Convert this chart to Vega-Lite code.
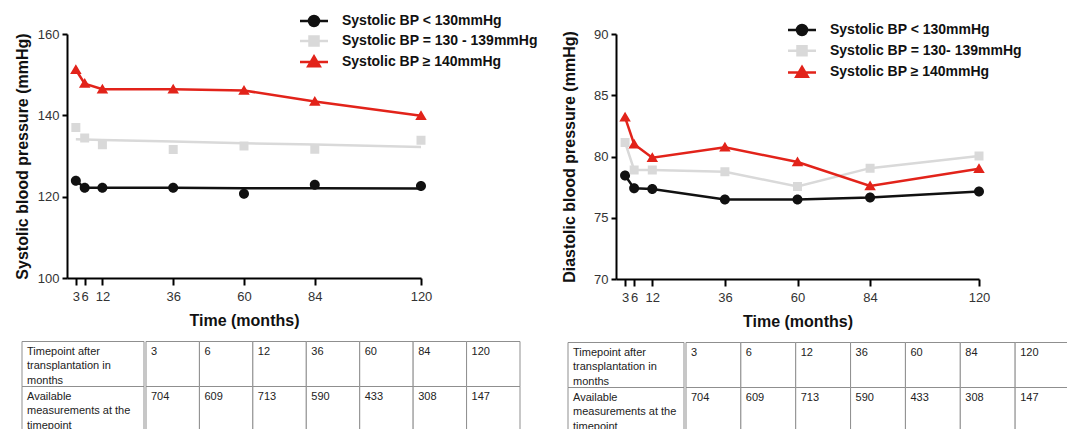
{
  "$schema": "https://vega.github.io/schema/vega-lite/v6.json",
  "padding": {"left": 14, "top": 14, "right": 0, "bottom": 0},
  "background": "white",
  "datasets": {
    "bp": [
      {"chart": "sys", "group": "Systolic BP < 130mmHg", "month": 3, "value": 123.9, "fit": 123.9},
      {"chart": "sys", "group": "Systolic BP < 130mmHg", "month": 6, "value": 122.2, "fit": 122.2},
      {"chart": "sys", "group": "Systolic BP < 130mmHg", "month": 12, "value": 122.2, "fit": 122.2},
      {"chart": "sys", "group": "Systolic BP < 130mmHg", "month": 36, "value": 122.2, "fit": 122.2},
      {"chart": "sys", "group": "Systolic BP < 130mmHg", "month": 60, "value": 120.7, "fit": 122.1},
      {"chart": "sys", "group": "Systolic BP < 130mmHg", "month": 84, "value": 122.95, "fit": 122.1},
      {"chart": "sys", "group": "Systolic BP < 130mmHg", "month": 120, "value": 122.6, "fit": 122.0},
      {"chart": "sys", "group": "Systolic BP = 130 - 139mmHg", "month": 3, "value": 137.0, "fit": 134.1},
      {"chart": "sys", "group": "Systolic BP = 130 - 139mmHg", "month": 6, "value": 134.4, "fit": 134.05},
      {"chart": "sys", "group": "Systolic BP = 130 - 139mmHg", "month": 12, "value": 132.75, "fit": 133.95},
      {"chart": "sys", "group": "Systolic BP = 130 - 139mmHg", "month": 36, "value": 131.6, "fit": 133.55},
      {"chart": "sys", "group": "Systolic BP = 130 - 139mmHg", "month": 60, "value": 132.45, "fit": 133.15},
      {"chart": "sys", "group": "Systolic BP = 130 - 139mmHg", "month": 84, "value": 131.65, "fit": 132.8},
      {"chart": "sys", "group": "Systolic BP = 130 - 139mmHg", "month": 120, "value": 133.9, "fit": 132.2},
      {"chart": "sys", "group": "Systolic BP ≥ 140mmHg", "month": 3, "value": 151.2, "fit": 151.2},
      {"chart": "sys", "group": "Systolic BP ≥ 140mmHg", "month": 6, "value": 147.8, "fit": 147.8},
      {"chart": "sys", "group": "Systolic BP ≥ 140mmHg", "month": 12, "value": 146.4, "fit": 146.4},
      {"chart": "sys", "group": "Systolic BP ≥ 140mmHg", "month": 36, "value": 146.4, "fit": 146.4},
      {"chart": "sys", "group": "Systolic BP ≥ 140mmHg", "month": 60, "value": 146.1, "fit": 146.1},
      {"chart": "sys", "group": "Systolic BP ≥ 140mmHg", "month": 84, "value": 143.4, "fit": 143.4},
      {"chart": "sys", "group": "Systolic BP ≥ 140mmHg", "month": 120, "value": 139.9, "fit": 139.9},
      {"chart": "dia", "group": "Systolic BP < 130mmHg", "month": 3, "value": 78.45, "fit": 78.45},
      {"chart": "dia", "group": "Systolic BP < 130mmHg", "month": 6, "value": 77.4, "fit": 77.4},
      {"chart": "dia", "group": "Systolic BP < 130mmHg", "month": 12, "value": 77.35, "fit": 77.35},
      {"chart": "dia", "group": "Systolic BP < 130mmHg", "month": 36, "value": 76.5, "fit": 76.5},
      {"chart": "dia", "group": "Systolic BP < 130mmHg", "month": 60, "value": 76.5, "fit": 76.5},
      {"chart": "dia", "group": "Systolic BP < 130mmHg", "month": 84, "value": 76.65, "fit": 76.65},
      {"chart": "dia", "group": "Systolic BP < 130mmHg", "month": 120, "value": 77.15, "fit": 77.15},
      {"chart": "dia", "group": "Systolic BP = 130- 139mmHg", "month": 3, "value": 81.15, "fit": 81.15},
      {"chart": "dia", "group": "Systolic BP = 130- 139mmHg", "month": 6, "value": 78.9, "fit": 78.9},
      {"chart": "dia", "group": "Systolic BP = 130- 139mmHg", "month": 12, "value": 78.9, "fit": 78.9},
      {"chart": "dia", "group": "Systolic BP = 130- 139mmHg", "month": 36, "value": 78.75, "fit": 78.75},
      {"chart": "dia", "group": "Systolic BP = 130- 139mmHg", "month": 60, "value": 77.55, "fit": 77.55},
      {"chart": "dia", "group": "Systolic BP = 130- 139mmHg", "month": 84, "value": 79.05, "fit": 79.05},
      {"chart": "dia", "group": "Systolic BP = 130- 139mmHg", "month": 120, "value": 80.05, "fit": 80.05},
      {"chart": "dia", "group": "Systolic BP ≥ 140mmHg", "month": 3, "value": 83.2, "fit": 83.2},
      {"chart": "dia", "group": "Systolic BP ≥ 140mmHg", "month": 6, "value": 81.0, "fit": 81.0},
      {"chart": "dia", "group": "Systolic BP ≥ 140mmHg", "month": 12, "value": 79.9, "fit": 79.9},
      {"chart": "dia", "group": "Systolic BP ≥ 140mmHg", "month": 36, "value": 80.75, "fit": 80.75},
      {"chart": "dia", "group": "Systolic BP ≥ 140mmHg", "month": 60, "value": 79.55, "fit": 79.55},
      {"chart": "dia", "group": "Systolic BP ≥ 140mmHg", "month": 84, "value": 77.6, "fit": 77.6},
      {"chart": "dia", "group": "Systolic BP ≥ 140mmHg", "month": 120, "value": 79.0, "fit": 79.0}
    ],
    "tbl": [
      {"row": "r1", "col": "label", "text": "Timepoint after\ntransplantation in\nmonths"},
      {"row": "r1", "col": "3", "text": "3"},
      {"row": "r1", "col": "6", "text": "6"},
      {"row": "r1", "col": "12", "text": "12"},
      {"row": "r1", "col": "36", "text": "36"},
      {"row": "r1", "col": "60", "text": "60"},
      {"row": "r1", "col": "84", "text": "84"},
      {"row": "r1", "col": "120", "text": "120"},
      {"row": "r2", "col": "label", "text": "Available\nmeasurements  at the\ntimepoint"},
      {"row": "r2", "col": "3", "text": "704"},
      {"row": "r2", "col": "6", "text": "609"},
      {"row": "r2", "col": "12", "text": "713"},
      {"row": "r2", "col": "36", "text": "590"},
      {"row": "r2", "col": "60", "text": "433"},
      {"row": "r2", "col": "84", "text": "308"},
      {"row": "r2", "col": "120", "text": "147"}
    ]
  },
  "hconcat": [
    {
      "vconcat": [
        {
          "width": 354,
          "height": 244,
          "data": {"name": "bp"},
          "transform": [{"filter": "datum.chart === 'sys'"}],
          "encoding": {
            "x": {
              "field": "month", "type": "quantitative",
              "scale": {"domain": [0, 120], "nice": false, "zero": false},
              "axis": {"values": [3, 6, 12, 36, 60, 84, 120], "title": "Time (months)", "tickSize": 7, "labelPadding": 5, "titlePadding": 9, "labelOverlap": false, "labelFlush": false}
            }
          },
          "layer": [
            {
              "mark": {"type": "line", "strokeWidth": 2.5},
              "encoding": {
                "y": {"field": "fit", "type": "quantitative", "title": "Systolic blood pressure (mmHg)",
                      "scale": {"domain": [100, 160], "nice": false, "zero": false},
                      "axis": {"values": [100, 120, 140, 160], "tickSize": 5, "labelPadding": 3, "titlePadding": 7}},
                "color": {"field": "group", "type": "nominal",
                          "scale": {"domain": ["Systolic BP < 130mmHg", "Systolic BP = 130 - 139mmHg", "Systolic BP ≥ 140mmHg"], "range": ["#111111", "#d9d9d9", "#e2231a"]},
                          "legend": {"title": null, "orient": "none", "legendX": 240, "legendY": -20, "padding": 0, "labelOffset": 21, "rowPadding": 0, "symbolSize": 100, "symbolStrokeWidth": 2.5, "labelLimit": 400}}
              }
            },
            {
              "mark": {"type": "point", "filled": true, "size": 100, "opacity": 1},
              "encoding": {
                "y": {"field": "value", "type": "quantitative", "title": "Systolic blood pressure (mmHg)"},
                "color": {"field": "group", "type": "nominal",
                          "legend": {"title": null, "orient": "none", "legendX": 240, "legendY": -20, "padding": 0, "labelOffset": 21, "rowPadding": 0, "symbolSize": 100, "symbolStrokeWidth": 2.5, "labelLimit": 400}},
                "shape": {"field": "group", "type": "nominal",
                          "scale": {"domain": ["Systolic BP < 130mmHg", "Systolic BP = 130 - 139mmHg", "Systolic BP ≥ 140mmHg"],
                                    "range": ["M-2.8,0L2.8,0M-1,0A1,1,0,1,1,1,0A1,1,0,1,1,-1,0Z", "M-2.8,0L2.8,0M-0.9,-0.9L0.9,-0.9L0.9,0.9L-0.9,0.9Z", "M-2.8,0L2.8,0M0,-1.1L1.15,0.85L-1.15,0.85Z"]},
                          "legend": {"title": null, "orient": "none", "legendX": 240, "legendY": -20, "padding": 0, "labelOffset": 21, "rowPadding": 0, "symbolSize": 100, "symbolStrokeWidth": 2.5, "labelLimit": 400}}
              }
            }
          ]
        },
        {
          "hconcat": [
            {
              "width": 77, "height": 90,
              "data": {"name": "tbl"},
              "transform": [{"filter": "datum.col === 'label'"}],
              "encoding": {
                "x": {"field": "col", "type": "nominal", "scale": {"domain": ["label"], "range": [-45, 77], "paddingInner": 0, "paddingOuter": 0}, "axis": null},
                "y": {"field": "row", "type": "nominal", "scale": {"domain": ["r1", "r2"], "paddingInner": 0, "paddingOuter": 0}, "axis": null}
              },
              "layer": [
                {"mark": {"type": "rect", "fill": "white", "stroke": "#8f8f8f", "strokeWidth": 1}},
                {"mark": {"type": "text", "align": "left", "baseline": "top", "dx": 5, "dy": 4, "lineBreak": "\n", "lineHeight": 14.5, "font": "Liberation Sans", "fontSize": 11, "color": "#222"},
                 "encoding": {"text": {"field": "text"}, "x": {"field": "col", "type": "nominal", "bandPosition": 0}, "y": {"field": "row", "type": "nominal", "bandPosition": 0}}}
              ]
            },
            {
              "width": 374, "height": 90,
              "data": {"name": "tbl"},
              "transform": [{"filter": "datum.col !== 'label'"}],
              "encoding": {
                "x": {"field": "col", "type": "nominal", "scale": {"domain": ["3", "6", "12", "36", "60", "84", "120"], "paddingInner": 0, "paddingOuter": 0}, "axis": null},
                "y": {"field": "row", "type": "nominal", "scale": {"domain": ["r1", "r2"], "paddingInner": 0, "paddingOuter": 0}, "axis": null}
              },
              "layer": [
                {"mark": {"type": "rect", "fill": "white", "stroke": "#8f8f8f", "strokeWidth": 1}},
                {"mark": {"type": "text", "align": "left", "baseline": "top", "dx": 5, "dy": 4, "lineBreak": "\n", "lineHeight": 14.5, "font": "Liberation Sans", "fontSize": 11, "color": "#222"},
                 "encoding": {"text": {"field": "text"}, "x": {"field": "col", "type": "nominal", "bandPosition": 0}, "y": {"field": "row", "type": "nominal", "bandPosition": 0}}}
              ]
            }
          ],
          "spacing": 0
        }
      ],
      "spacing": 12.5,
      "resolve": {"scale": {"color": "independent", "shape": "independent"}}
    },
    {
      "vconcat": [
        {
          "width": 363,
          "height": 245,
          "data": {"name": "bp"},
          "transform": [{"filter": "datum.chart === 'dia'"}],
          "encoding": {
            "x": {
              "field": "month", "type": "quantitative",
              "scale": {"domain": [0, 120], "nice": false, "zero": false},
              "axis": {"values": [3, 6, 12, 36, 60, 84, 120], "title": "Time (months)", "tickSize": 7, "labelPadding": 5, "titlePadding": 9, "labelOverlap": false, "labelFlush": false}
            }
          },
          "layer": [
            {
              "mark": {"type": "line", "strokeWidth": 2.5},
              "encoding": {
                "y": {"field": "fit", "type": "quantitative", "title": "Diastolic blood pressure (mmHg)",
                      "scale": {"domain": [70, 90], "nice": false, "zero": false},
                      "axis": {"values": [70, 75, 80, 85, 90], "tickSize": 5, "labelPadding": 3, "titlePadding": 16}},
                "color": {"field": "group", "type": "nominal",
                          "scale": {"domain": ["Systolic BP < 130mmHg", "Systolic BP = 130- 139mmHg", "Systolic BP ≥ 140mmHg"], "range": ["#111111", "#d9d9d9", "#e2231a"]},
                          "legend": {"title": null, "orient": "none", "legendX": 179, "legendY": -11, "padding": 0, "labelOffset": 21, "rowPadding": 0.7, "symbolSize": 100, "symbolStrokeWidth": 2.5, "labelLimit": 400}}
              }
            },
            {
              "mark": {"type": "point", "filled": true, "size": 100, "opacity": 1},
              "encoding": {
                "y": {"field": "value", "type": "quantitative", "title": "Diastolic blood pressure (mmHg)"},
                "color": {"field": "group", "type": "nominal",
                          "legend": {"title": null, "orient": "none", "legendX": 179, "legendY": -11, "padding": 0, "labelOffset": 21, "rowPadding": 0.7, "symbolSize": 100, "symbolStrokeWidth": 2.5, "labelLimit": 400}},
                "shape": {"field": "group", "type": "nominal",
                          "scale": {"domain": ["Systolic BP < 130mmHg", "Systolic BP = 130- 139mmHg", "Systolic BP ≥ 140mmHg"],
                                    "range": ["M-2.8,0L2.8,0M-1,0A1,1,0,1,1,1,0A1,1,0,1,1,-1,0Z", "M-2.8,0L2.8,0M-0.9,-0.9L0.9,-0.9L0.9,0.9L-0.9,0.9Z", "M-2.8,0L2.8,0M0,-1.1L1.15,0.85L-1.15,0.85Z"]},
                          "legend": {"title": null, "orient": "none", "legendX": 179, "legendY": -11, "padding": 0, "labelOffset": 21, "rowPadding": 0.7, "symbolSize": 100, "symbolStrokeWidth": 2.5, "labelLimit": 400}}
              }
            }
          ]
        },
        {
          "hconcat": [
            {
              "width": 68, "height": 90,
              "data": {"name": "tbl"},
              "transform": [{"filter": "datum.col === 'label'"}],
              "encoding": {
                "x": {"field": "col", "type": "nominal", "scale": {"domain": ["label"], "range": [-48, 68], "paddingInner": 0, "paddingOuter": 0}, "axis": null},
                "y": {"field": "row", "type": "nominal", "scale": {"domain": ["r1", "r2"], "paddingInner": 0, "paddingOuter": 0}, "axis": null}
              },
              "layer": [
                {"mark": {"type": "rect", "fill": "white", "stroke": "#8f8f8f", "strokeWidth": 1}},
                {"mark": {"type": "text", "align": "left", "baseline": "top", "dx": 5, "dy": 4, "lineBreak": "\n", "lineHeight": 14.5, "font": "Liberation Sans", "fontSize": 11, "color": "#222"},
                 "encoding": {"text": {"field": "text"}, "x": {"field": "col", "type": "nominal", "bandPosition": 0}, "y": {"field": "row", "type": "nominal", "bandPosition": 0}}}
              ]
            },
            {
              "width": 384, "height": 90,
              "data": {"name": "tbl"},
              "transform": [{"filter": "datum.col !== 'label'"}],
              "encoding": {
                "x": {"field": "col", "type": "nominal", "scale": {"domain": ["3", "6", "12", "36", "60", "84", "120"], "paddingInner": 0, "paddingOuter": 0}, "axis": null},
                "y": {"field": "row", "type": "nominal", "scale": {"domain": ["r1", "r2"], "paddingInner": 0, "paddingOuter": 0}, "axis": null}
              },
              "layer": [
                {"mark": {"type": "rect", "fill": "white", "stroke": "#8f8f8f", "strokeWidth": 1}},
                {"mark": {"type": "text", "align": "left", "baseline": "top", "dx": 5, "dy": 4, "lineBreak": "\n", "lineHeight": 14.5, "font": "Liberation Sans", "fontSize": 11, "color": "#222"},
                 "encoding": {"text": {"field": "text"}, "x": {"field": "col", "type": "nominal", "bandPosition": 0}, "y": {"field": "row", "type": "nominal", "bandPosition": 0}}}
              ]
            }
          ],
          "spacing": 0
        }
      ],
      "spacing": 12.5,
      "resolve": {"scale": {"color": "independent", "shape": "independent"}}
    }
  ],
  "spacing": 23,
  "resolve": {"scale": {"color": "independent", "shape": "independent"}},
  "config": {
    "view": {"stroke": null},
    "font": "Liberation Sans",
    "axis": {
      "grid": false, "domainColor": "#000000", "domainWidth": 2, "tickColor": "#000000", "tickWidth": 2,
      "labelFont": "Liberation Sans", "labelFontSize": 13, "labelColor": "#333333",
      "titleFont": "Liberation Sans", "titleFontSize": 16, "titleFontWeight": "bold", "titleColor": "#111111"
    },
    "legend": {"labelFont": "Liberation Sans", "labelFontSize": 14, "labelFontWeight": "bold", "labelColor": "#111111"}
  }
}
